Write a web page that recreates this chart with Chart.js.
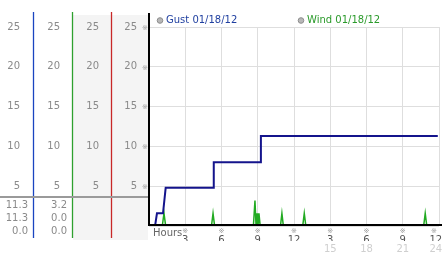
<!DOCTYPE html>
<html>
<head>
<meta charset="utf-8">
<script src="https://cdn.jsdelivr.net/npm/chart.js@4.4.0/dist/chart.umd.min.js"></script>
<style>
body { margin: 0; background: #fff; }
canvas { display: block; }
</style>
</head>
<body>
<canvas id="grafico" width="442" height="253"></canvas>
<script>
// Gust line (hours, mph)
var gustHours = [0, 0.5, 0.66, 1.16, 1.38, 5.3, 5.36, 9.2, 9.26, 23.9];
var gustSpeed = [0, 0, 1.6, 1.6, 4.8, 4.8, 8.0, 8.0, 11.3, 11.3];

// Wind line, mostly zero with short spikes
var windHours = [0, 1.1, 1.24, 1.38, 5.17, 5.3, 5.43, 8.64, 8.77, 8.86, 8.94, 9.02, 9.1, 9.2,
                 10.88, 11.0, 11.12, 12.72, 12.85, 12.98, 22.73, 22.86, 22.99, 23.6];
var windSpeed = [0, 0, 1.6, 0, 0, 1.6, 0, 0, 3.2, 0, 1.6, 0, 1.6, 0,
                 0, 1.6, 0, 0, 1.6, 0, 0, 1.6, 0, 0];

var seriesNames = ['Gust 01/18/12', 'Wind 01/18/12'];

// x ticks: first row is clock hour, second row only for the second half
var hourTicks = [3, 6, 9, 12, 15, 18, 21, 24];
var hourLabels = ['3', '6', '9', '12', '3', '6', '9', '12'];
var hourLabels2 = ['', '', '', '', '15', '18', '21', '24'];

// max / current / min under the left columns
var gustStats = ['11.3', '11.3', '0.0'];
var windStats = ['3.2', '0.0', '0.0'];

function pontos(horas, valores) {
    var lista = [];
    for (var i = 0; i < horas.length; i++) {
        lista.push({ x: horas[i], y: valores[i] });
    }
    return lista;
}

function rotuloHora(lista) {
    return function (valor) {
        var idx = hourTicks.indexOf(valor);
        if (idx < 0) return '';
        var txt = lista[idx];
        // last label sits inside the canvas edge
        if (idx == hourTicks.length - 1 && txt) txt = txt + '\u00a0\u00a0';
        return txt;
    };
}

function semZero(valor) {
    return valor === 0 ? '' : valor;
}

var fonte = { family: 'DejaVu Sans', size: 10 };

function eixoY(peso, largura, pad, comGrade) {
    return {
        position: 'left',
        min: 0,
        max: 25,
        weight: peso,
        grid: comGrade ? { color: '#dedede', drawTicks: false } : { display: false, drawTicks: false },
        border: { display: false },
        ticks: { stepSize: 5, padding: pad, color: '#8a8a8a', font: fonte, callback: semZero },
        afterFit: function (s) { s.width = largura; }
    };
}

var painel = {
    id: 'painel',
    beforeDraw: function (chart) {
        var c = chart.ctx;
        var s = chart.scales;
        c.save();
        c.fillStyle = '#f4f4f4';
        c.fillRect(s.y2.right + 1, 15, s.y.right - s.y2.right - 2, 225);
        c.restore();
    },
    afterDatasetsDraw: function (chart) {
        var c = chart.ctx;
        var a = chart.chartArea;
        var y0 = chart.scales.y.getPixelForValue(0);
        c.save();
        c.strokeStyle = '#000';
        c.lineWidth = 2;
        c.beginPath();
        c.moveTo(a.left - 1, y0 - 1);
        c.lineTo(chart.width, y0 - 1);
        c.stroke();
        c.restore();
    },
    afterDraw: function (chart) {
        var c = chart.ctx;
        var s = chart.scales;
        var a = chart.chartArea;
        c.save();

        // column separators
        var cores = ['#1a44c0', '#2ea02e', '#c82828'];
        var bordas = [s.y1.right, s.y2.right, s.y3.right];
        c.lineWidth = 1.3;
        for (var i = 0; i < 3; i++) {
            c.strokeStyle = cores[i];
            c.beginPath();
            c.moveTo(Math.round(bordas[i]) + 0.5, 12);
            c.lineTo(Math.round(bordas[i]) + 0.5, 238);
            c.stroke();
        }
        c.strokeStyle = '#000';
        c.lineWidth = 2;
        c.beginPath();
        c.moveTo(a.left, 13);
        c.lineTo(a.left, a.bottom);
        c.stroke();

        // table under the axis columns
        c.strokeStyle = '#9a9a9a';
        c.lineWidth = 2;
        c.beginPath();
        c.moveTo(0, 197);
        c.lineTo(a.left - 1, 197);
        c.stroke();

        c.font = '10px "DejaVu Sans"';
        c.fillStyle = '#8a8a8a';
        c.textAlign = 'right';
        c.textBaseline = 'middle';
        var linhas = [205, 218, 231];
        for (var j = 0; j < linhas.length; j++) {
            c.fillText(gustStats[j], s.y1.right - 5, linhas[j]);
            c.fillText(windStats[j], s.y2.right - 5, linhas[j]);
        }

        // little marks beside the ticks
        c.font = '7px "DejaVu Sans"';
        c.fillStyle = '#9a9a9a';
        c.textAlign = 'center';
        for (var v = 5; v <= 25; v += 5) {
            c.fillText('\u203b', a.left - 4, s.y.getPixelForValue(v) + 1);
        }
        for (var k = 0; k < hourTicks.length; k++) {
            var px = s.x.getPixelForValue(hourTicks[k]);
            if (k == hourTicks.length - 1) px -= 5;
            c.fillText('\u203b', px, a.bottom + 5);
        }

        c.font = '10px "DejaVu Sans"';
        c.fillStyle = '#666';
        c.textAlign = 'left';
        c.fillText('Hours', a.left + 4, a.bottom + 7);

        // legend
        var legX = [160, 301];
        var legCor = ['#1f3fa0', '#2a9a2a'];
        for (var m = 0; m < 2; m++) {
            c.beginPath();
            c.arc(legX[m], 20.5, 2.8, 0, Math.PI * 2);
            c.fillStyle = '#b8b8b8';
            c.fill();
            c.strokeStyle = '#8c8c8c';
            c.lineWidth = 1;
            c.stroke();
            c.fillStyle = legCor[m];
            c.fillText(chart.data.datasets[m].label, legX[m] + 6, 20.5);
        }
        c.restore();
    }
};

var ctx = document.getElementById('grafico');
new Chart(ctx, {
    type: 'line',
    data: {
        datasets: [{
            label: seriesNames[0],
            data: pontos(gustHours, gustSpeed),
            borderColor: '#14148c',
            borderWidth: 2,
            pointRadius: 0,
            tension: 0
        }, {
            label: seriesNames[1],
            data: pontos(windHours, windSpeed),
            borderColor: '#22aa22',
            borderWidth: 1.5,
            pointRadius: 0,
            tension: 0
        }]
    },
    options: {
        responsive: false,
        animation: false,
        devicePixelRatio: 1,
        layout: { padding: { top: 27, right: 3, left: 0, bottom: 0 } },
        plugins: {
            legend: { display: false },
            tooltip: { enabled: false }
        },
        scales: {
            x: {
                type: 'linear',
                position: 'bottom',
                min: 0,
                max: 24,
                weight: 0,
                grid: { color: '#dedede', drawTicks: false },
                border: { display: false },
                ticks: { stepSize: 3, autoSkip: false, maxRotation: 0, padding: 8, color: '#555', font: fonte, callback: rotuloHora(hourLabels) },
                afterFit: function (s) { s.height = 15; s.paddingLeft = 0; s.paddingRight = 0; }
            },
            x2: {
                type: 'linear',
                position: 'bottom',
                min: 0,
                max: 24,
                weight: 1,
                grid: { display: false, drawTicks: false },
                border: { display: false },
                ticks: { stepSize: 3, autoSkip: false, maxRotation: 0, padding: 2, color: '#cfcfcf', font: fonte, callback: rotuloHora(hourLabels2) },
                afterFit: function (s) { s.height = 12; s.paddingLeft = 0; s.paddingRight = 0; }
            },
            y: eixoY(0, 38, 12, true),
            y3: eixoY(1, 39, 12, false),
            y2: eixoY(2, 39, 12, false),
            y1: eixoY(3, 33, 13, false)
        }
    },
    plugins: [painel]
});
</script>
</body>
</html>
